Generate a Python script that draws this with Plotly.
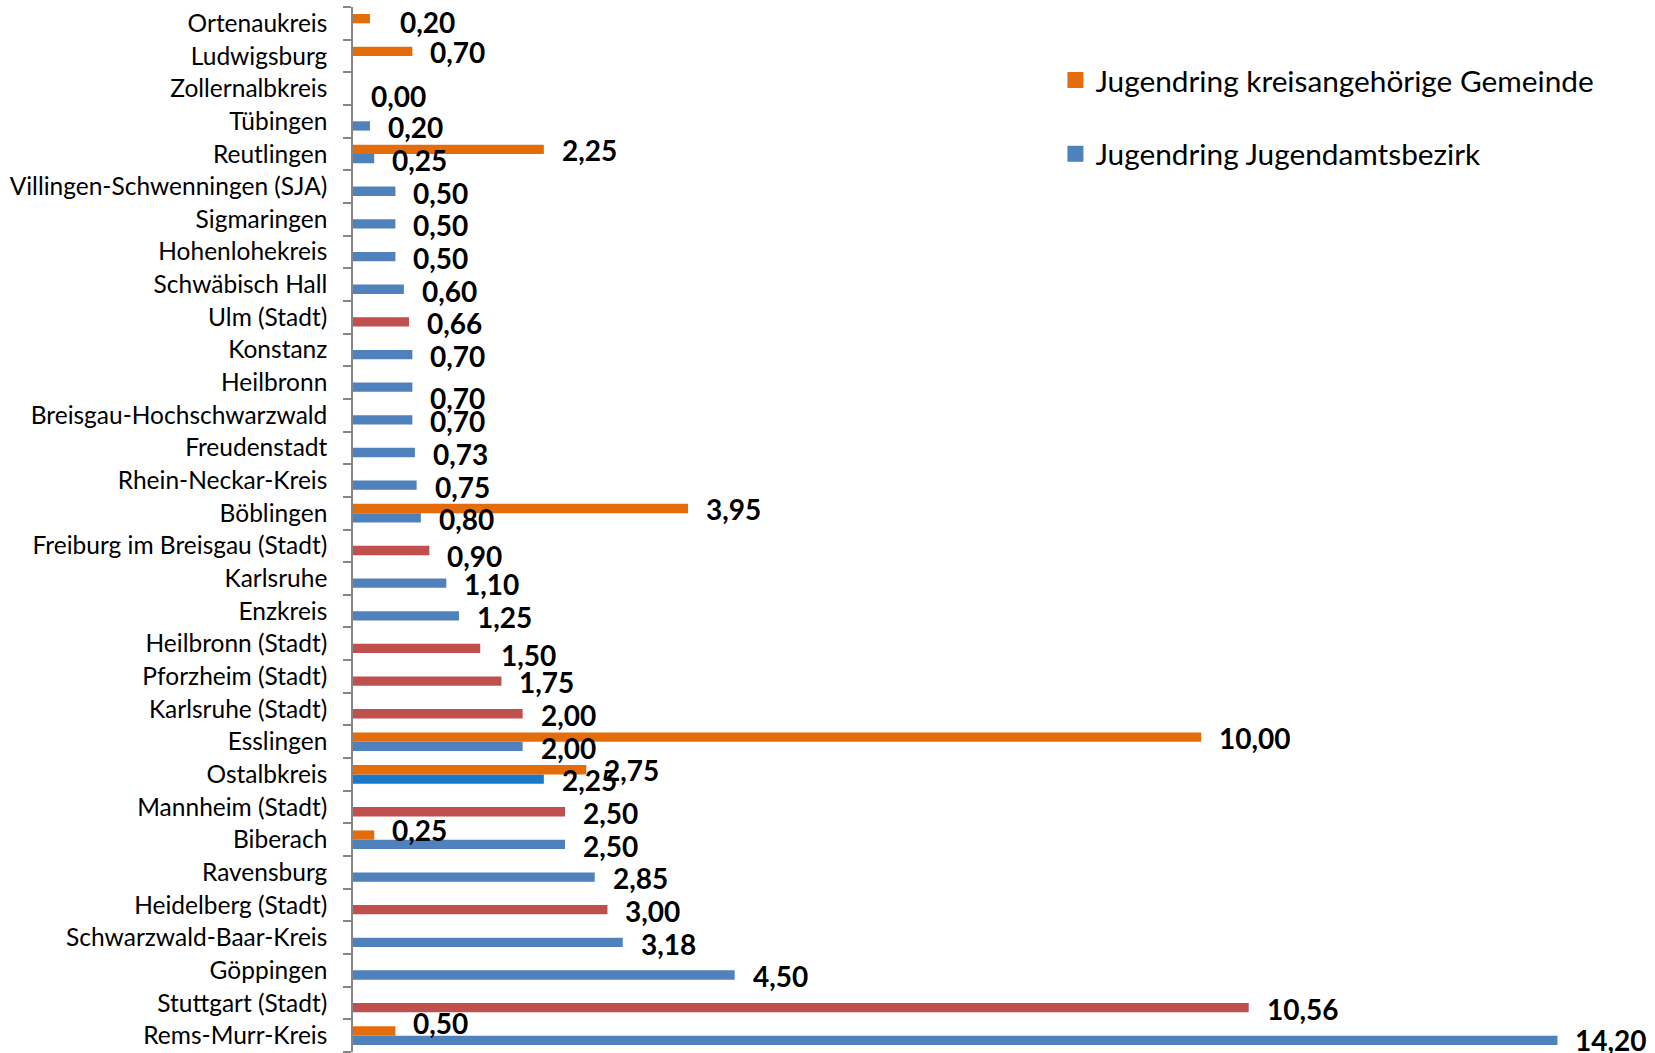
import plotly.graph_objects as go

# Districts, listed top to bottom as they appear on the chart
districts = [
    "Ortenaukreis", "Ludwigsburg", "Zollernalbkreis", "Tübingen", "Reutlingen",
    "Villingen-Schwenningen (SJA)", "Sigmaringen", "Hohenlohekreis", "Schwäbisch Hall",
    "Ulm (Stadt)", "Konstanz", "Heilbronn", "Breisgau-Hochschwarzwald", "Freudenstadt",
    "Rhein-Neckar-Kreis", "Böblingen", "Freiburg im Breisgau (Stadt)", "Karlsruhe",
    "Enzkreis", "Heilbronn (Stadt)", "Pforzheim (Stadt)", "Karlsruhe (Stadt)",
    "Esslingen", "Ostalbkreis", "Mannheim (Stadt)", "Biberach", "Ravensburg",
    "Heidelberg (Stadt)", "Schwarzwald-Baar-Kreis", "Göppingen", "Stuttgart (Stadt)",
    "Rems-Murr-Kreis",
]

# Jugendring kreisangehörige Gemeinde
gemeinde = [
    0.20, 0.70, 0.00, None, 2.25,
    None, None, None, None,
    None, None, None, None, None,
    None, 3.95, None, None,
    None, None, None, None,
    10.00, 2.75, None, 0.25, None,
    None, None, None, None,
    0.50,
]

# Jugendring Jugendamtsbezirk
jugendamt = [
    None, None, None, 0.20, 0.25,
    0.50, 0.50, 0.50, 0.60,
    0.66, 0.70, 0.70, 0.70, 0.73,
    0.75, 0.80, 0.90, 1.10,
    1.25, 1.50, 1.75, 2.00,
    2.00, 2.25, 2.50, 2.50, 2.85,
    3.00, 3.18, 4.50, 10.56,
    14.20,
]

series_names = ["Jugendring kreisangehörige Gemeinde", "Jugendring Jugendamtsbezirk"]

ORANGE = "#E46C0A"
BLUE = "#4F81BD"
RED = "#C0504D"
BRIGHT_BLUE = "#1878CA"
FONT = "Lato, Carlito, sans-serif"

# City districts are shown in red, Ostalbkreis in a brighter blue
blue_colors = []
for name in districts:
    if name.endswith("(Stadt)"):
        blue_colors.append(RED)
    elif name == "Ostalbkreis":
        blue_colors.append(BRIGHT_BLUE)
    else:
        blue_colors.append(BLUE)

LABEL_FONT = dict(family=FONT, size=28, color="#000000", weight="bold")


def fmt(v):
    return f"{v:.2f}".replace(".", ",")


fig = go.Figure()
# the first trace sits at the bottom of each group
fig.add_trace(go.Bar(
    y=districts, x=jugendamt, orientation="h", name=series_names[1],
    marker=dict(color=blue_colors, line=dict(width=0)), showlegend=False,
))
fig.add_trace(go.Bar(
    y=districts, x=gemeinde, orientation="h", name=series_names[0],
    marker=dict(color=ORANGE, line=dict(width=0)), showlegend=False,
))
# legend entries with large square swatches
for rank, (nm, col) in enumerate(zip(series_names, [ORANGE, BLUE])):
    fig.add_trace(go.Scatter(
        x=[None], y=[None], mode="markers", name=nm,
        marker=dict(symbol="square", size=16, color=col),
        legendgroup=nm, legendrank=rank + 1,
    ))

# small manual nudges of individual value labels (pixels: dx right, dy down)
nudge_gem = {"Ortenaukreis": (12, 3), "Zollernalbkreis": (0, 11),
             "Biberach": (0, -6), "Rems-Murr-Kreis": (0, -9)}
nudge_amt = {"Heilbronn": (0, 9), "Freiburg im Breisgau (Stadt)": (0, 4),
             "Heilbronn (Stadt)": (3, 5), "Rems-Murr-Kreis": (0, -2)}

annotations = []
for name, v in zip(districts, gemeinde):
    if v is None:
        continue
    dx, dy = nudge_gem.get(name, (0, 0))
    annotations.append(dict(x=v, y=name, text=fmt(v), showarrow=False,
                            xanchor="left", yanchor="middle",
                            xshift=16 + dx, yshift=4 - dy, font=LABEL_FONT))
for name, v in zip(districts, jugendamt):
    if v is None:
        continue
    dx, dy = nudge_amt.get(name, (0, 0))
    annotations.append(dict(x=v, y=name, text=fmt(v), showarrow=False,
                            xanchor="left", yanchor="middle",
                            xshift=16 + dx, yshift=-6 - dy, font=LABEL_FONT))

n = len(districts)
fig.update_layout(
    width=1655, height=1053,
    margin=dict(l=353, r=0, t=7, b=1, autoexpand=False),
    paper_bgcolor="white", plot_bgcolor="white",
    barmode="group", bargap=0.43, bargroupgap=0,
    font=dict(family=FONT, color="#000000"),
    annotations=annotations,
    showlegend=True,
    legend=dict(
        x=0.5395, y=0.955, xanchor="left", yanchor="top",
        traceorder="grouped", tracegroupgap=32, itemsizing="trace",
        font=dict(family=FONT, size=29.8, color="#000000"),
        bgcolor="rgba(0,0,0,0)",
    ),
    xaxis=dict(range=[0, 15.35], visible=False, fixedrange=True, automargin=False),
    yaxis=dict(
        type="category", categoryorder="array", categoryarray=districts[::-1],
        range=[-0.5, n - 0.5], automargin=False,
        showline=True, linecolor="#868686", linewidth=1.5,
        ticks="outside", tickson="boundaries", ticklen=8, tickcolor="#868686",
        tickwidth=1.5, ticklabelstandoff=19,
        tickfont=dict(family=FONT, size=24.5, color="#000000"),
        showgrid=False, zeroline=False,
    ),
)

fig.write_html("out.html")
